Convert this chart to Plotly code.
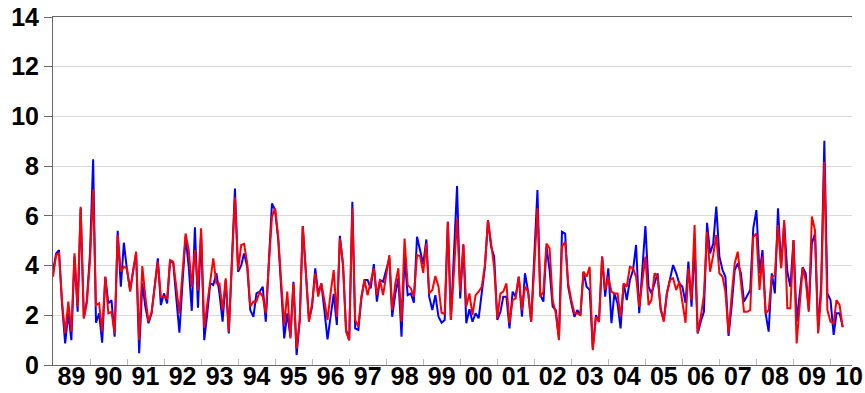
import pandas as pd
import plotly.graph_objects as go

start_month = "1989-01-01"

blue_values = [
    3.78, 4.49, 4.62, 2.4, 0.87, 2.08, 1.0, 4.36, 2.14, 6.3, 1.88, 2.6,
    4.5, 8.28, 1.70, 2.08, 0.90, 3.55, 2.48, 2.61, 1.14, 5.4, 3.15, 4.92,
    3.82, 3.02, 3.75, 4.49, 0.47, 3.28, 2.35, 1.68, 2.08, 3.15, 4.29, 2.41,
    2.88, 2.48, 4.2, 4.09, 2.75, 1.30, 3.28, 5.16, 3.95, 2.18, 5.54, 2.3,
    5.3, 1.0, 2.0, 3.28, 3.22, 3.69, 2.88, 1.74, 3.42, 1.27, 4.22, 7.10,
    3.75, 4.02, 4.49, 3.95, 2.21, 1.94, 2.88, 2.95, 3.15, 1.74, 4.22, 6.50,
    6.23, 5.03, 3.15, 1.07, 2.08, 1.14, 3.35, 0.40, 1.81, 5.59, 3.69, 1.81,
    2.35, 3.89, 2.88, 3.28, 2.21, 1.03, 1.94, 2.86, 1.61, 5.20, 4.02, 1.43,
    1.0, 6.57, 1.47, 1.41, 2.68, 3.42, 3.42, 3.08, 4.06, 2.55, 3.42, 3.35,
    3.82, 4.29, 1.94, 2.88, 3.49, 1.14, 4.36, 2.81, 2.88, 2.51, 5.16, 4.56,
    4.06, 5.05, 2.75, 2.21, 2.81, 1.94, 1.70, 1.81, 5.76, 1.81, 4.5, 7.20,
    2.68, 4.83, 1.68, 2.24, 1.74, 2.08, 1.88, 3.02, 3.95, 5.83, 4.76, 4.36,
    1.81, 2.14, 2.75, 2.75, 1.47, 2.95, 2.75, 3.55, 1.94, 3.69, 2.95, 1.74,
    4.36, 7.04, 2.81, 2.55, 4.76, 3.82, 2.35, 2.21, 1.07, 5.36, 5.29, 3.15,
    2.48, 1.94, 2.21, 2.01, 3.75, 3.15, 3.02, 0.67, 2.01, 1.74, 4.36, 2.75,
    3.89, 1.68, 2.88, 2.48, 1.47, 3.28, 2.61, 3.42, 3.82, 4.83, 2.08, 3.82,
    5.59, 3.15, 2.88, 3.28, 3.69, 2.21, 1.81, 2.88, 3.42, 4.02, 3.69, 3.28,
    3.15, 2.5, 4.16, 2.35, 4.8, 1.27, 1.74, 2.14, 5.72, 4.49, 4.89, 6.37,
    4.36, 3.82, 3.55, 1.17, 2.35, 3.82, 4.09, 3.69, 2.55, 2.81, 3.02, 5.50,
    6.23, 3.69, 4.62, 2.08, 1.34, 3.69, 2.88, 6.30, 3.95, 5.70, 3.75, 3.15,
    5.03, 1.74, 2.75, 3.93, 3.69, 2.21, 4.89, 5.29, 1.34, 3.28, 9.02, 2.88,
    2.61, 1.21, 2.08, 2.08, 1.54,
]

red_values = [
    3.55, 4.42, 4.49, 2.5, 1.27, 2.55, 1.34, 4.49, 2.35, 6.37, 1.88, 2.5,
    4.2, 7.06, 2.41, 2.48, 1.34, 3.55, 2.08, 2.14, 1.27, 5.23, 3.75, 3.95,
    3.89, 2.95, 3.75, 4.56, 1.0, 3.98, 2.75, 1.74, 2.14, 3.15, 4.16, 2.75,
    2.75, 2.68, 4.22, 4.16, 3.15, 2.08, 3.69, 5.29, 4.62, 3.15, 4.62, 3.0,
    5.5, 1.5, 2.4, 3.42, 4.29, 3.28, 3.28, 2.21, 3.49, 1.34, 4.09, 6.74,
    3.82, 4.83, 4.87, 4.09, 2.35, 2.55, 2.55, 2.95, 2.75, 2.08, 4.09, 5.97,
    6.30, 5.16, 3.42, 1.6, 2.95, 1.07, 3.28, 0.67, 1.81, 5.59, 3.69, 1.74,
    2.48, 3.69, 2.75, 3.28, 2.61, 1.81, 2.88, 3.82, 1.94, 5.09, 4.06, 1.34,
    1.0, 6.30, 1.81, 1.54, 2.75, 3.42, 2.81, 3.35, 3.89, 2.81, 3.42, 2.81,
    3.62, 4.42, 2.21, 3.28, 3.89, 1.74, 5.09, 3.22, 3.08, 2.75, 4.42, 4.38,
    3.71, 4.89, 2.88, 3.02, 3.58, 3.15, 2.10, 2.05, 5.76, 1.81, 3.8, 5.90,
    2.95, 4.87, 2.35, 2.88, 2.01, 2.81, 2.95, 3.15, 4.02, 5.83, 4.89, 3.95,
    1.88, 2.88, 2.95, 3.28, 1.68, 2.61, 2.68, 3.55, 2.21, 3.15, 2.95, 1.74,
    3.95, 6.30, 2.75, 2.95, 4.89, 4.69, 2.61, 2.08, 1.0, 4.76, 4.96, 3.28,
    2.61, 2.08, 2.08, 2.01, 3.75, 3.55, 3.95, 0.60, 1.94, 1.74, 4.36, 3.02,
    3.55, 2.95, 2.88, 2.88, 1.94, 3.28, 3.15, 3.95, 3.89, 3.55, 2.35, 3.42,
    4.36, 2.41, 2.61, 3.69, 3.55, 2.28, 1.74, 2.88, 3.42, 3.49, 3.02, 3.35,
    2.61, 1.7, 3.89, 2.61, 5.63, 1.30, 1.94, 2.81, 5.36, 3.75, 4.42, 5.23,
    3.69, 3.55, 2.95, 1.27, 2.75, 4.09, 4.56, 3.28, 2.14, 2.14, 2.21, 5.16,
    5.29, 3.02, 4.36, 2.08, 2.21, 3.55, 3.62, 5.63, 3.89, 5.83, 2.28, 2.28,
    5.03, 0.87, 2.35, 3.89, 3.42, 2.14, 5.97, 5.43, 1.27, 2.88, 8.18, 2.21,
    1.74, 1.68, 2.61, 2.41, 1.51,
]

year_labels = ["89", "90", "91", "92", "93", "94", "95", "96", "97", "98", "99",
               "00", "01", "02", "03", "04", "05", "06", "07", "08", "09", "10"]
label_years = list(range(1989, 2011))

months = pd.date_range(start_month, periods=len(blue_values), freq="MS")

fig = go.Figure()
fig.add_trace(go.Scatter(x=months, y=blue_values, mode="lines",
                         line=dict(color="#0000ff", width=2), showlegend=False))
fig.add_trace(go.Scatter(x=months, y=red_values, mode="lines",
                         line=dict(color="#ff0000", width=2), showlegend=False))

tick_font = dict(family="Liberation Sans, Arial, sans-serif", size=25, color="#000000", weight="bold")

fig.update_layout(
    width=865, height=393,
    margin=dict(l=53, r=13, t=17, b=28),
    paper_bgcolor="white", plot_bgcolor="white",
    xaxis=dict(
        type="date", automargin=False,
        range=["1989-01-01", "2010-08-01"],
        tickmode="array",
        tickvals=[f"{y}-07-02" for y in label_years],
        ticktext=year_labels,
        ticks="", showgrid=False, zeroline=False,
        tickfont=tick_font, ticklabelstandoff=-11,
        showline=True, linecolor="#666666", linewidth=1, mirror=True,
        minor=dict(tickmode="array", tickvals=[f"{y}-01-01" for y in range(1990, 2011)],
                   ticks="inside", ticklen=6, tickcolor="#bbbbbb", showgrid=False),
    ),
    yaxis=dict(
        range=[0, 14], tickmode="linear", tick0=0, dtick=2, automargin=False,
        ticks="outside", ticklen=8, tickcolor="#666666",
        showgrid=True, gridcolor="#d9d9d9", gridwidth=1,
        zeroline=False, tickfont=tick_font, ticklabelstandoff=0,
        showline=True, linecolor="#666666", linewidth=1,
    ),
)

fig.write_html(
    "out.html",
    config={"displayModeBar": False},
    post_script="document.body.style.margin='0';document.body.style.overflow='hidden';",
)
